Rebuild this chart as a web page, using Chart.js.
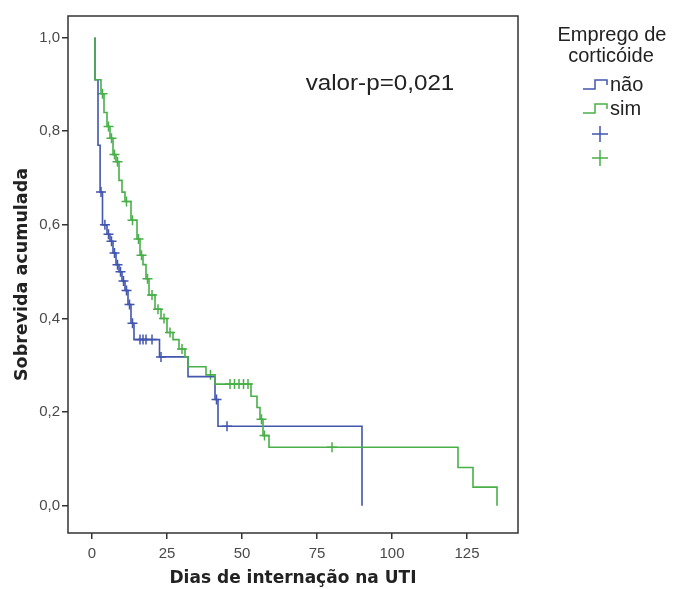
<!DOCTYPE html>
<html>
<head>
<meta charset="utf-8">
<script src="https://cdn.jsdelivr.net/npm/chart.js@4.4.0/dist/chart.umd.min.js"></script>
<style>
  html, body { margin: 0; padding: 0; background: #fff; }
</style>
</head>
<body>
<canvas id="myChart" width="687" height="589"></canvas>
<script>
// Curva de Kaplan-Meier: grupo "não"
var naoDias = [1, 1, 2, 2.7, 3.5, 5, 6, 7, 8, 9, 10, 11, 12, 13, 14, 22.5, 32, 41, 42, 90];
var naoSobrev = [1.0, 0.91, 0.77, 0.67, 0.60, 0.58, 0.565, 0.54, 0.515, 0.50, 0.48, 0.46, 0.43, 0.39, 0.355, 0.318, 0.276, 0.227, 0.17, 0.0];
var naoCensDias = [3, 4.3, 5.5, 6.5, 7.5, 8.5, 9.5, 10.5, 11.5, 12.5, 13.5, 16, 17, 18, 20, 23, 41.5, 45];
var naoCensSobrev = [0.67, 0.60, 0.58, 0.565, 0.54, 0.515, 0.50, 0.48, 0.46, 0.43, 0.39, 0.355, 0.355, 0.355, 0.355, 0.318, 0.227, 0.17];

// grupo "sim"
var simDias = [1, 1, 3, 4, 5, 6, 7, 8, 9, 10, 11, 13, 15, 16, 17, 18, 19, 21, 23, 25, 27, 29, 31, 32, 38, 41, 53, 55, 56, 57, 59, 122, 127, 135];
var simSobrev = [1.0, 0.91, 0.88, 0.84, 0.81, 0.785, 0.75, 0.735, 0.695, 0.67, 0.65, 0.61, 0.57, 0.535, 0.515, 0.485, 0.45, 0.42, 0.40, 0.37, 0.355, 0.335, 0.318, 0.297, 0.28, 0.26, 0.234, 0.21, 0.185, 0.15, 0.125, 0.082, 0.04, 0.0];
var simCensDias = [3.5, 5.5, 6.5, 7.5, 8.5, 11.5, 13.5, 15.5, 16.5, 18.5, 20, 22, 24, 26, 30, 39.5, 46, 47.5, 49, 50.5, 52, 56.5, 57.5, 80];
var simCensSobrev = [0.88, 0.81, 0.785, 0.75, 0.735, 0.65, 0.61, 0.57, 0.535, 0.485, 0.45, 0.42, 0.40, 0.37, 0.335, 0.28, 0.26, 0.26, 0.26, 0.26, 0.26, 0.185, 0.15, 0.125];

var xTicks = [0, 25, 50, 75, 100, 125];
var yTicks = [0, 0.2, 0.4, 0.6, 0.8, 1.0];
var grupos = ["não", "sim"];
var legendaTitulo = ["Emprego de", "corticóide"];
var textoP = "valor-p=0,021";

var azul = "#4256ae";
var verde = "#49b049";

function pontos(xs, ys) {
  return xs.map(function (x, i) { return { x: x, y: ys[i] }; });
}

// caixa, valor-p e legenda
var extras = {
  id: "extras",
  afterDraw: function (chart) {
    var ctx = chart.ctx;
    var a = chart.chartArea;
    ctx.save();
    ctx.strokeStyle = "#333";
    ctx.lineWidth = 1.5;
    ctx.strokeRect(a.left, a.top, a.right - a.left, a.bottom - a.top);

    var sx = chart.scales.x, sy = chart.scales.y;
    ctx.fillStyle = "#222";
    ctx.textAlign = "center";
    ctx.textBaseline = "middle";
    ctx.save();
    ctx.translate(sx.getPixelForValue(96), sy.getPixelForValue(0.9));
    ctx.scale(1.1, 1);
    ctx.font = "22px 'Liberation Sans', Arial, sans-serif";
    ctx.fillText(textoP, 0, 0);
    ctx.restore();

    // legenda
    ctx.font = "20px 'Liberation Sans', Arial, sans-serif";
    ctx.fillText(legendaTitulo[0], 612, 35);
    ctx.fillText(legendaTitulo[1], 611, 56);
    ctx.textAlign = "left";
    var cores = [azul, verde];
    [85, 109].forEach(function (y, i) {
      ctx.strokeStyle = cores[i];
      ctx.lineWidth = 1.5;
      ctx.beginPath();
      ctx.moveTo(583, y + 4);
      ctx.lineTo(595, y + 4);
      ctx.lineTo(595, y - 5);
      ctx.lineTo(607, y - 5);
      ctx.lineTo(607, y);
      ctx.stroke();
      ctx.fillStyle = "#222";
      ctx.fillText(grupos[i], 610, y);
    });
    [134, 158].forEach(function (y, i) {
      ctx.strokeStyle = cores[i];
      ctx.lineWidth = 1.5;
      ctx.beginPath();
      ctx.moveTo(592, y); ctx.lineTo(608, y);
      ctx.moveTo(600, y - 8); ctx.lineTo(600, y + 8);
      ctx.stroke();
    });
    ctx.restore();
  }
};

var ctx = document.getElementById("myChart").getContext("2d");
var chart = new Chart(ctx, {
  type: "line",
  data: {
    datasets: [
      {
        label: grupos[1],
        data: pontos(simDias, simSobrev),
        borderColor: verde,
        borderWidth: 1.6,
        stepped: true,
        pointRadius: 0,
        fill: false
      },
      {
        label: grupos[0],
        data: pontos(naoDias, naoSobrev),
        borderColor: azul,
        borderWidth: 1.6,
        stepped: true,
        pointRadius: 0,
        fill: false
      },
      {
        label: grupos[0] + " censurado",
        data: pontos(naoCensDias, naoCensSobrev),
        showLine: false,
        pointStyle: "cross",
        pointRadius: 5,
        borderColor: azul,
        borderWidth: 1.5
      },
      {
        label: grupos[1] + " censurado",
        data: pontos(simCensDias, simCensSobrev),
        showLine: false,
        pointStyle: "cross",
        pointRadius: 5,
        borderColor: verde,
        borderWidth: 1.5
      }
    ]
  },
  options: {
    responsive: false,
    animation: false,
    layout: { padding: { left: 0, right: 169, top: 16, bottom: 0 } },
    plugins: { legend: { display: false }, tooltip: { enabled: false } },
    scales: {
      x: {
        type: "linear",
        min: -8,
        max: 142,
        afterBuildTicks: function (axis) {
          axis.ticks = xTicks.map(function (v) { return { value: v }; });
        },
        afterFit: function (axis) { axis.height = 56; },
        grid: { drawOnChartArea: false, tickLength: 6, color: "#333", lineWidth: 1.5 },
        border: { display: false },
        ticks: {
          padding: 6,
          color: "#4a4a4a",
          font: { family: "'Liberation Sans', Arial, sans-serif", size: 15 }
        },
        title: {
          display: true,
          text: "Dias de internação na UTI",
          color: "#222",
          font: { family: "'DejaVu Sans', sans-serif", size: 17, weight: "bold" },
          padding: { top: 0, bottom: 0 }
        }
      },
      y: {
        min: -0.058,
        max: 1.046,
        afterBuildTicks: function (axis) {
          axis.ticks = yTicks.map(function (v) { return { value: v }; });
        },
        afterFit: function (axis) { axis.width = 68; },
        grid: { drawOnChartArea: false, tickLength: 6, color: "#333", lineWidth: 1.5 },
        border: { display: false },
        ticks: {
          padding: 2,
          color: "#4a4a4a",
          font: { family: "'Liberation Sans', Arial, sans-serif", size: 15 },
          callback: function (v) { return v.toFixed(1).replace(".", ","); }
        },
        title: {
          display: true,
          text: "Sobrevida acumulada",
          color: "#222",
          font: { family: "'DejaVu Sans', sans-serif", size: 17.5, weight: "bold" },
          padding: { top: 12, bottom: 0 }
        }
      }
    }
  },
  plugins: [extras]
});
</script>
</body>
</html>
